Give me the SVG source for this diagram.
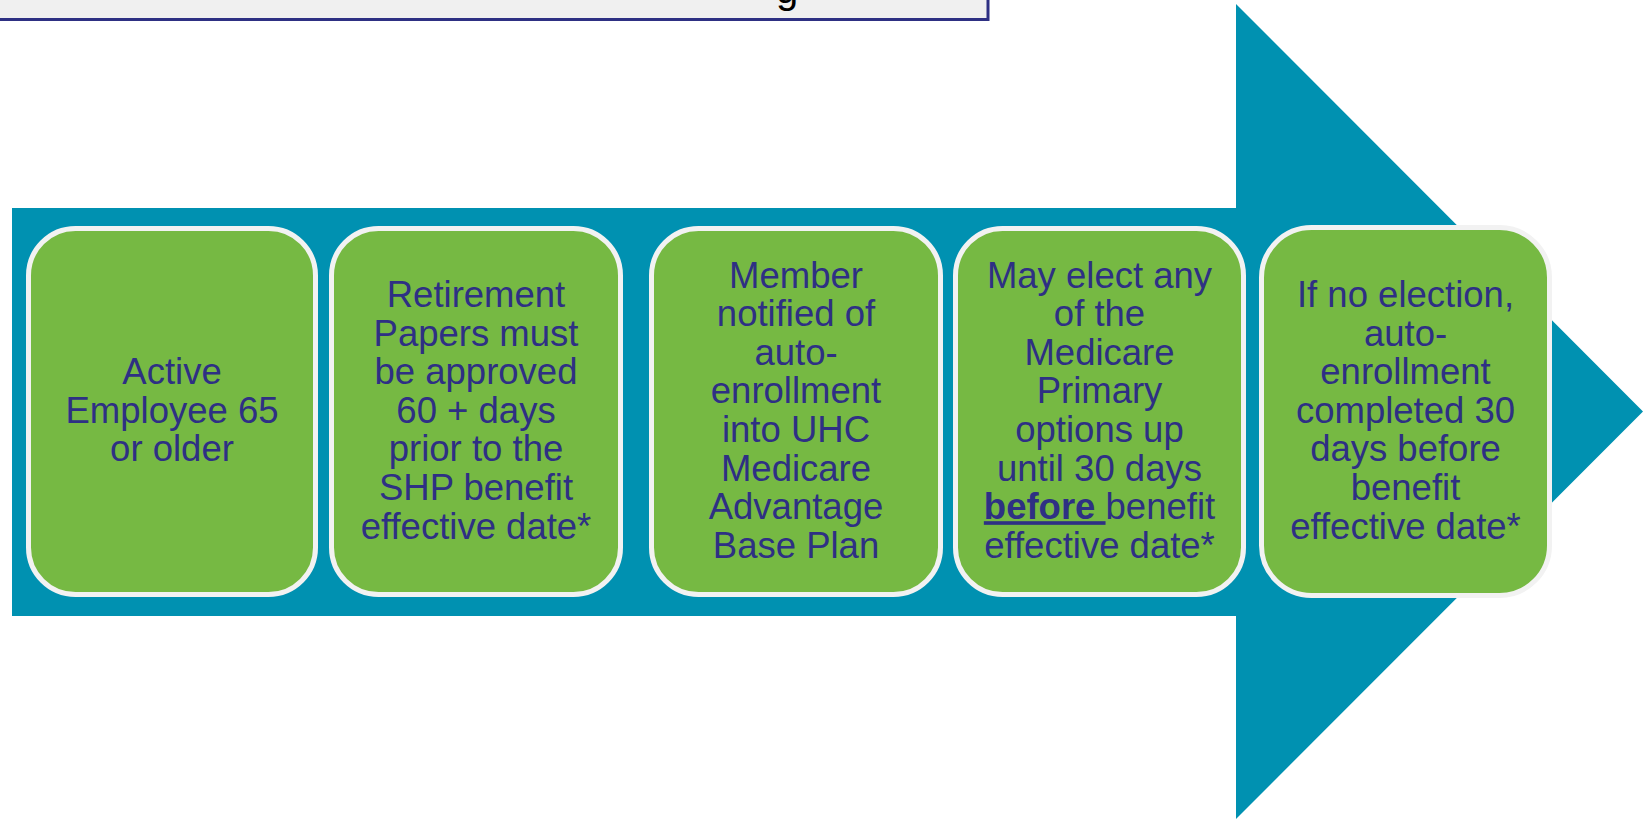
<svg xmlns="http://www.w3.org/2000/svg" width="1643" height="819" viewBox="0 0 1643 819">
<style>
.box{fill:#76B943;stroke:#F2F2F2;stroke-width:5}
.lbl{font-family:"Liberation Sans",Arial,sans-serif;font-size:36.5px;fill:#2E3084;text-anchor:middle;white-space:pre}
</style>
<rect width="1643" height="819" fill="#FFFFFF"/>
<g id="title">
<rect x="-5" y="-60" width="993" height="79.5" fill="#F0F0F0" stroke="#2E3083" stroke-width="3"/>
<text x="787" y="2.5" font-family="Liberation Sans, Arial, sans-serif" font-size="40" fill="#000000" text-anchor="middle">g</text>
</g>
<g id="arrow">
<path d="M12,208 H1236 V4 L1643,411.5 L1236,819 V616 H12 Z" fill="#0091B1"/>
</g>
<g id="step1">
<rect class="box" x="28.5" y="228.5" width="287" height="366" rx="47"/>
<text class="lbl"><tspan x="172" y="384.1">Active</tspan><tspan x="172" y="422.7">Employee 65</tspan><tspan x="172" y="461.3">or older</tspan></text>
</g>
<g id="step2">
<rect class="box" x="331.5" y="228.5" width="289" height="366" rx="47"/>
<text class="lbl"><tspan x="476" y="306.9">Retirement</tspan><tspan x="476" y="345.5">Papers must</tspan><tspan x="476" y="384.1">be approved</tspan><tspan x="476" y="422.7">60 + days</tspan><tspan x="476" y="461.3">prior to the</tspan><tspan x="476" y="499.9">SHP benefit</tspan><tspan x="476" y="538.5">effective date*</tspan></text>
</g>
<g id="step3">
<rect class="box" x="651.5" y="228.5" width="289" height="366" rx="47"/>
<text class="lbl"><tspan x="796" y="287.6">Member</tspan><tspan x="796" y="326.2">notified of</tspan><tspan x="796" y="364.8">auto-</tspan><tspan x="796" y="403.4">enrollment</tspan><tspan x="796" y="442">into UHC</tspan><tspan x="796" y="480.6">Medicare</tspan><tspan x="796" y="519.2">Advantage</tspan><tspan x="796" y="557.8">Base Plan</tspan></text>
</g>
<g id="step4">
<rect class="box" x="955.5" y="228.5" width="288" height="366" rx="47"/>
<text class="lbl"><tspan x="1099.5" y="287.6">May elect any</tspan><tspan x="1099.5" y="326.2">of the</tspan><tspan x="1099.5" y="364.8">Medicare</tspan><tspan x="1099.5" y="403.4">Primary</tspan><tspan x="1099.5" y="442">options up</tspan><tspan x="1099.5" y="480.6">until 30 days</tspan><tspan x="1099.5" y="519.2"><tspan font-weight="bold" text-decoration="underline">before </tspan>benefit</tspan><tspan x="1099.5" y="557.8">effective date*</tspan></text>
</g>
<g id="step5">
<rect class="box" x="1261.5" y="227.5" width="288" height="368" rx="50"/>
<text class="lbl"><tspan x="1405.5" y="306.9">If no election,</tspan><tspan x="1405.5" y="345.5">auto-</tspan><tspan x="1405.5" y="384.1">enrollment</tspan><tspan x="1405.5" y="422.7">completed 30</tspan><tspan x="1405.5" y="461.3">days before</tspan><tspan x="1405.5" y="499.9">benefit</tspan><tspan x="1405.5" y="538.5">effective date*</tspan></text>
</g>
<g id="connectors"/>
</svg>
